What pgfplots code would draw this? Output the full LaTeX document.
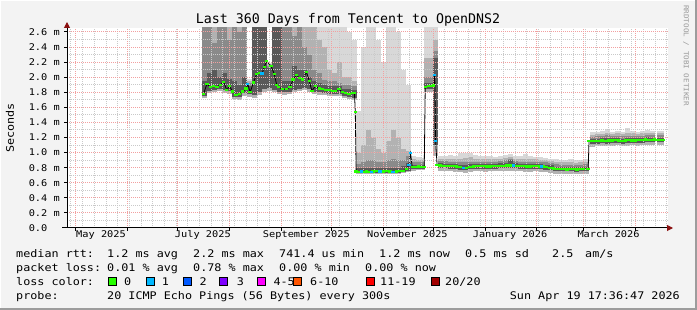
\documentclass[border=0pt]{standalone}
\usepackage{fontspec}
\setmainfont{DejaVu Sans Mono}[FakeStretch=1.12]
\newfontfamily\titlefont{DejaVu Sans Mono}
\usepackage{pgfplots}
\usepackage{pgfplotstable}
\pgfplotsset{compat=1.18}
\usetikzlibrary{arrows.meta}

\definecolor{bg}{HTML}{F3F3F3}
\definecolor{framedark}{HTML}{9C9C9C}
\definecolor{mgrid}{HTML}{F2A0A0}
\definecolor{ngrid}{HTML}{C9C9C9}
\definecolor{sA}{HTML}{D8D8D8}
\definecolor{sB}{HTML}{B2B2B2}
\definecolor{sC}{HTML}{8A8A8A}
\definecolor{sD}{HTML}{595959}
\definecolor{l0}{HTML}{26FF00}
\definecolor{l1}{HTML}{00B8FF}
\definecolor{l2}{HTML}{0059FF}
\definecolor{l3}{HTML}{7E00FF}
\definecolor{l4}{HTML}{FF00FF}
\definecolor{l6}{HTML}{FF5500}
\definecolor{l11}{HTML}{FF0000}
\definecolor{l20}{HTML}{A10000}
\definecolor{arrowred}{HTML}{8B1010}

\newcommand\legfont{\fontsize{10.5}{12}\selectfont}
\newcommand\axfont{\fontsize{9.2}{10}\selectfont}
\newcommand\wmfont{\fontsize{6.8}{8}\selectfont}

% smoke: x, lower light bound, lower dark bound, tops of darkest..lightest layers
\pgfplotstableread{
x b1 b3 a4 a3 a2 a1
77 1.72 1.75 1.95 2.70 2.70 2.70
80 1.79 1.82 2.05 2.70 2.70 2.70
83 1.80 1.83 2.10 2.45 2.70 2.70
86 1.82 1.85 2.00 2.70 2.70 2.70
89 1.79 1.83 2.05 2.70 2.70 2.70
92 1.78 1.82 1.98 2.50 2.70 2.70
95 1.71 1.74 1.95 2.70 2.70 2.70
98 1.70 1.74 1.90 2.60 2.70 2.70
101 1.75 1.79 2.00 2.70 2.70 2.70
104 1.74 1.78 1.88 1.92 1.95 1.97
107 1.72 1.76 2.70 2.70 2.70 2.70
110 1.76 1.80 2.70 2.70 2.70 2.70
113 1.80 1.85 2.70 2.70 2.70 2.70
116 1.82 1.86 2.12 2.15 2.17 2.19
119 1.80 1.83 2.70 2.70 2.70 2.70
122 1.78 1.81 2.70 2.70 2.70 2.70
125 1.77 1.80 1.95 2.70 2.70 2.70
128 1.78 1.81 1.95 2.70 2.70 2.70
131 1.80 1.83 2.15 2.55 2.70 2.70
134 1.82 1.85 2.10 2.70 2.70 2.70
137 1.83 1.86 2.10 2.40 2.70 2.70
140 1.80 1.84 2.00 2.30 2.70 2.70
143 1.78 1.81 1.95 2.10 2.70 2.70
146 1.76 1.80 1.92 2.05 2.50 2.70
149 1.76 1.79 1.90 1.96 2.40 2.70
152 1.75 1.78 1.89 1.95 2.10 2.70
155 1.75 1.78 1.88 1.95 2.05 2.70
158 1.75 1.78 1.88 1.93 2.20 2.70
161 1.72 1.75 1.85 1.90 2.00 2.70
164 1.71 1.74 1.84 1.90 2.00 2.60
166.5 1.70 1.73 1.83 1.88 1.95 2.50
169 0.72 0.73 0.79 0.85 1.00 1.55
172 0.71 0.73 0.80 0.88 1.10 2.40
175 0.71 0.73 0.80 0.90 1.30 2.70
178 0.72 0.73 0.80 0.90 1.20 2.70
181 0.72 0.73 0.80 0.88 1.05 2.50
184 0.72 0.73 0.80 0.88 1.00 2.20
187 0.72 0.73 0.80 0.90 1.15 2.70
190 0.72 0.73 0.80 0.92 1.30 2.70
193 0.72 0.73 0.80 0.90 1.20 2.60
196 0.73 0.74 0.82 0.90 1.05 2.10
199 0.74 0.76 0.86 0.95 1.02 1.90
202 0.76 0.78 0.84 0.88 0.92 0.96
205 0.77 0.78 0.84 0.87 0.90 0.94
207.5 0.77 0.78 0.84 0.87 0.90 0.93
210 1.80 1.84 1.93 2.00 2.25 2.70
213 1.80 1.84 1.93 2.00 2.25 2.70
215.5 0.95 1.10 2.25 2.35 2.50 2.70
218.5 0.76 0.795 0.86 0.89 0.92 0.96
221.5 0.755 0.79 0.855 0.885 0.915 0.95
224.5 0.75 0.785 0.85 0.88 0.92 0.97
227.5 0.745 0.78 0.845 0.875 0.91 0.95
230.5 0.74 0.775 0.84 0.87 0.92 1.00
233.5 0.73 0.765 0.835 0.87 0.93 1.00
236.5 0.745 0.78 0.845 0.88 0.94 0.99
239.5 0.75 0.785 0.85 0.88 0.92 0.97
242.5 0.75 0.785 0.85 0.88 0.91 0.95
245.5 0.745 0.78 0.845 0.875 0.91 0.96
248.5 0.75 0.785 0.85 0.88 0.92 0.95
251.5 0.75 0.785 0.85 0.88 0.91 0.94
254.5 0.755 0.79 0.86 0.89 0.92 0.96
257.5 0.76 0.795 0.86 0.90 0.93 0.97
260.5 0.76 0.795 0.90 0.91 0.94 0.98
263.5 0.755 0.79 0.86 0.89 0.92 0.96
266.5 0.75 0.785 0.85 0.88 0.91 0.95
269.5 0.745 0.78 0.845 0.875 0.91 0.98
272.5 0.745 0.78 0.845 0.875 0.91 0.95
275.5 0.75 0.785 0.85 0.88 0.91 0.94
278.5 0.745 0.78 0.845 0.875 0.90 0.94
281.5 0.74 0.775 0.84 0.87 0.90 0.93
284.5 0.73 0.765 0.83 0.86 0.89 0.92
287.5 0.72 0.755 0.815 0.845 0.875 0.91
290.5 0.715 0.75 0.81 0.84 0.87 0.90
293.5 0.715 0.75 0.81 0.84 0.87 0.90
296.5 0.715 0.75 0.81 0.84 0.87 0.91
299.5 0.71 0.745 0.805 0.835 0.865 0.90
302.5 0.715 0.75 0.81 0.84 0.87 0.90
305.5 0.72 0.755 0.815 0.845 0.875 0.91
309.5 1.08 1.115 1.18 1.21 1.24 1.27
312.5 1.085 1.12 1.185 1.215 1.245 1.28
315.5 1.09 1.125 1.19 1.22 1.25 1.29
318.5 1.085 1.12 1.20 1.23 1.26 1.31
321.5 1.09 1.125 1.19 1.22 1.25 1.28
324.5 1.095 1.13 1.195 1.225 1.255 1.29
327.5 1.085 1.12 1.185 1.215 1.245 1.28
330.5 1.09 1.125 1.19 1.22 1.26 1.32
333.5 1.095 1.13 1.195 1.225 1.255 1.29
336.5 1.09 1.125 1.19 1.22 1.25 1.28
339.5 1.095 1.13 1.195 1.225 1.255 1.29
342.5 1.105 1.14 1.205 1.235 1.265 1.30
345.5 1.10 1.135 1.20 1.23 1.26 1.29
349.7 1.10 1.135 1.20 1.23 1.26 1.29
350.7 1.10 1.135 1.20 1.23 1.26 1.29
}\smoke

% median rtt (ms) against days since 1 May 2025
\pgfplotstableread{
x y
76.4 1.78
78.4 1.91
80.4 1.87
82.4 1.88
84.4 1.87
86.4 1.90
88.4 1.94
90.3 1.83
91.9 1.88
93.9 1.81
95.9 1.76
97.9 1.78
99.9 1.81
101.9 1.85
102.9 1.91
104.3 1.80
106.3 1.93
108.2 2.04
109.9 2.06
111.5 2.05
112.8 2.14
114.2 2.21
116.8 2.15
118.8 2.04
120.2 1.90
121.4 1.87
123.8 1.84
126.1 1.84
128.2 1.87
130.1 1.97
132.1 2.03
133.7 1.99
135.7 1.97
138.1 2.07
139.7 1.95
141.3 1.82
143.3 1.88
145.7 1.85
147.6 1.84
149.6 1.83
151.6 1.83
153.6 1.82
155.6 1.82
157.6 1.84
159.6 1.80
161.6 1.79
163.6 1.78
165.6 1.79
166.8 1.79
167.3 1.54
167.8 0.75
170 0.745
172 0.74
174 0.75
176 0.745
178 0.75
180 0.755
182 0.75
184 0.75
186 0.755
188 0.75
190 0.745
192 0.75
194 0.755
196 0.76
198 0.78
199.4 0.84
200.4 0.99
201.4 0.81
203 0.81
205 0.815
207 0.81
208.6 0.81
209.2 1.87
211 1.88
213 1.885
214.3 1.89
214.9 2.03
215.4 1.15
216.3 0.835
218 0.83
220 0.825
222 0.825
224 0.82
226 0.82
228 0.815
230 0.81
232 0.80
234 0.80
236 0.81
238 0.815
240 0.82
242 0.82
244 0.82
246 0.815
248 0.815
250 0.82
252 0.82
254 0.825
256 0.825
258 0.83
260 0.83
262 0.83
264 0.825
266 0.82
268 0.82
270 0.815
272 0.815
274 0.82
276 0.82
278 0.815
280 0.815
282 0.81
284 0.80
286 0.79
288 0.785
290 0.78
292 0.78
294 0.775
296 0.78
298 0.78
300 0.775
302 0.78
304 0.78
306.8 0.785
307.3 1.15
309 1.15
311 1.155
313 1.15
315 1.16
317 1.155
319 1.16
321 1.16
323 1.165
325 1.16
327 1.155
329 1.16
331 1.165
333 1.16
335 1.16
337 1.165
339 1.165
341 1.175
343 1.17
345 1.17
346.6 1.175
347.5 nan
348.4 1.17
350.2 1.17
352 1.17
}\med

\pgfplotstableread{
x y
102.9 1.91
111.5 2.05
171 0.75
177 0.745
182 0.75
190 0.745
199.4 0.84
200.4 0.99
214.9 2.03
215.4 1.15
232 0.80
262 0.83
279 0.815
}\lossone

\pgfplotsset{smokelayer/.style={draw=none, mark=none, forget plot,
  error bars/.cd, y dir=plus, y explicit, error mark=none,
  error bar style={draw=#1, line width=5.1pt, solid}}}

\begin{document}
\begin{tikzpicture}[x=1pt,y=1pt]
\path[use as bounding box] (0,0) rectangle (697,310);
\fill[bg] (0,0) rectangle (697,310);
\draw[white, line width=1pt] (0.5,0) -- (0.5,309.5) -- (697,309.5);
\draw[framedark, line width=2pt] (0,1) -- (696,1) -- (696,310);

\begin{axis}[
  at={(67pt,82pt)}, anchor=south west,
  scale only axis, width=601pt, height=200pt,
  xmin=-5.39, xmax=354.61, ymin=0, ymax=2.6531,
  axis background/.style={fill=white},
  axis on top,
  axis x line=bottom, axis y line=left,
  axis line style={black, line width=1pt},
  x axis line style={-{Triangle[length=6pt,width=6pt,color=arrowred]}, shorten >=-5pt, shorten <=-5pt},
  y axis line style={-{Triangle[length=6pt,width=6pt,color=arrowred]}, shorten >=-6pt},
  xtick={0,31,61,92,123,153,184,214,245,276,304,335},
  xticklabels={},
  minor xtick={-3,4,...,354},
  extra x ticks={15,76,138,198.5,260,319},
  extra x tick labels={May 2025,July 2025,September 2025,November 2025,January 2026,March 2026},
  extra x tick style={grid=none, major tick length=0pt},
  ytick={0,0.2,0.4,0.6,0.8,1.0,1.2,1.4,1.6,1.8,2.0,2.2,2.4,2.6},
  yticklabels={0.0\hphantom{xx},0.2 m,0.4 m,0.6 m,0.8 m,1.0 m,1.2 m,1.4 m,1.6 m,1.8 m,2.0 m,2.2 m,2.4 m,2.6 m},
  minor ytick={0.1,0.3,0.5,0.7,0.9,1.1,1.3,1.5,1.7,1.9,2.1,2.3,2.5},
  grid=both,
  major grid style={mgrid, line width=1pt, dash pattern=on 1pt off 1pt},
  minor grid style={ngrid, line width=1pt, dash pattern=on 1pt off 1pt},
  tick align=outside,
  major tick length=3pt, minor tick length=0pt,
  tick style={black, line width=1pt},
  tick label style={font=\axfont},
  y tick label style={anchor=east, inner sep=0pt, xshift=-4pt},
  x tick label style={anchor=north, inner sep=0pt, yshift=-2pt},
]
% smoke layers
\addplot[smokelayer=sA] table[x=x, y=b1, y error plus expr=\thisrow{a1}-\thisrow{b1}] {\smoke};
\addplot[smokelayer=sB] table[x=x, y=b1, y error plus expr=\thisrow{a2}-\thisrow{b1}] {\smoke};
\addplot[smokelayer=sC] table[x=x, y=b3, y error plus expr=\thisrow{a3}-\thisrow{b3}] {\smoke};
\addplot[smokelayer=sD] table[x=x, y=b3, y error plus expr=\thisrow{a4}-\thisrow{b3}] {\smoke};
% median
\addplot[black, line width=0.8pt, mark=none, unbounded coords=jump] table[x=x,y=y] {\med};
\addplot[only marks, mark=-, mark size=1.7pt, mark options={draw=l0, line width=2.2pt}] table[x=x,y=y] {\med};
\addplot[only marks, mark=-, mark size=1.7pt, mark options={draw=l1, line width=2.2pt}] table[x=x,y=y] {\lossone};
\end{axis}

% title and labels
\node[anchor=base, font={\titlefont\fontsize{13.3}{15}\selectfont}] at (348,286) {Last 360 Days from Tencent to OpenDNS2};
\node[rotate=90, font=\legfont] at (10,182) {Seconds};
\node[rotate=-90, anchor=west, inner sep=0pt, font=\wmfont, text=black!40] at (686,305) {RRDTOOL / TOBI OETIKER};

% legend rows
\begin{scope}[every node/.style={anchor=base west, inner sep=0pt, font=\legfont}]
\node at (16,52) {median rtt:};
\node at (107,52) {1.2 ms avg};
\node at (193,52) {2.2 ms max};
\node at (279,52) {741.4 us min};
\node at (379,52) {1.2 ms now};
\node at (465,52) {0.5 ms sd};
\node at (552,52) {2.5};
\node at (585,52) {am/s};

\node at (16,38) {packet loss:};
\node at (107,38) {0.01 \% avg};
\node at (193,38) {0.78 \% max};
\node at (279,38) {0.00 \% min};
\node at (365,38) {0.00 \% now};

\node at (16,24) {loss color:};
\node at (124,24) {0};
\node at (161.7,24) {1};
\node at (199.3,24) {2};
\node at (236.7,24) {3};
\node at (273.3,24) {4-5};
\node at (310,24) {6-10};
\node at (380,24) {11-19};
\node at (445,24) {20/20};

\node at (16,10) {probe:};
\node at (107,10) {20 ICMP Echo Pings (56 Bytes) every 300s};
\end{scope}
\node[anchor=base east, inner sep=0pt, font=\legfont] at (680,10) {Sun Apr 19 17:36:47 2026};

\begin{scope}[line width=1pt]
\filldraw[fill=l0, draw=black] (108.5,24.5) rectangle (116.5,32.5);
\filldraw[fill=l1, draw=black] (146.2,24.5) rectangle (154.2,32.5);
\filldraw[fill=l2, draw=black] (183.2,24.5) rectangle (191.2,32.5);
\filldraw[fill=l3, draw=black] (219.8,24.5) rectangle (227.8,32.5);
\filldraw[fill=l4, draw=black] (257.2,24.5) rectangle (265.2,32.5);
\filldraw[fill=l6, draw=black] (293.8,24.5) rectangle (301.8,32.5);
\filldraw[fill=l11, draw=black] (366.2,24.5) rectangle (374.2,32.5);
\filldraw[fill=l20, draw=black] (431.2,24.5) rectangle (439.2,32.5);
\end{scope}
\end{tikzpicture}
\end{document}
